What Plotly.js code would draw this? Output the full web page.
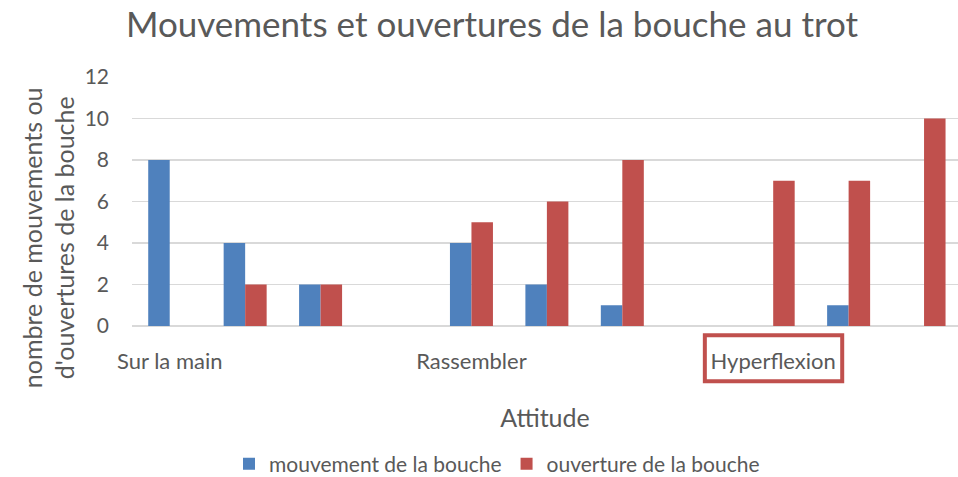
<!DOCTYPE html>
<html>
<head>
<meta charset="utf-8">
<script src="https://cdn.plot.ly/plotly-3.0.1.min.js"></script>
<style>html,body{margin:0;padding:0;background:#fff;}#chart{width:958px;height:477px;}</style>
</head>
<body>
<div id="chart"></div>
<script>
const categories = ["Sur la main", "", "", "", "Rassembler", "", "", "", "Hyperflexion", "", ""];
const mouvement = [8, 4, 2, null, 4, 2, 1, null, null, 1, null];
const ouverture = [null, 2, 2, null, 5, 6, 8, null, 7, 7, 10];
const seriesNames = ["mouvement de la bouche", "ouverture de la bouche"];
const yTicks = [0, 2, 4, 6, 8, 10, 12];

const idx = categories.map((c, i) => i);
const txt = '#595959';
const font = 'Lato, "Open Sans", sans-serif';

const traces = [
  {type: 'bar', name: seriesNames[0], x: idx, y: mouvement, marker: {color: '#4f81bd'}, hoverinfo: 'y'},
  {type: 'bar', name: seriesNames[1], x: idx, y: ouverture, marker: {color: '#c0504d'}, hoverinfo: 'y'}
];

const plotH = 325.7 - 77;
const layout = {
  width: 958, height: 477,
  margin: {l: 132, r: 0, t: 77, b: 151},
  paper_bgcolor: '#fff', plot_bgcolor: '#fff',
  font: {family: font, color: txt},
  barmode: 'group', bargap: 0.43, bargroupgap: 0,
  title: {text: 'Mouvements et ouvertures de la bouche au trot', font: {size: 35, color: txt, family: font},
          xref: 'container', x: 492/958, xanchor: 'center', yref: 'container', y: 1 - 25/477, yanchor: 'middle'},
  xaxis: {range: [-0.5, 10.45], tickvals: idx, ticktext: categories, showgrid: false, zeroline: false,
          showline: false, ticks: '', tickfont: {size: 22, color: txt}, ticklabelstandoff: 20,
          title: {text: 'Attitude', font: {size: 25, color: txt}, standoff: 36}},
  yaxis: {range: [0, 12], tickvals: yTicks, showgrid: true, gridcolor: '#d9d9d9', gridwidth: 1.5,
          zeroline: true, zerolinecolor: '#d9d9d9', zerolinewidth: 1.5, showline: false, ticks: '',
          tickfont: {size: 21, color: txt}, ticklabelstandoff: 22},
  showlegend: true,
  legend: {orientation: 'h', xref: 'container', x: 497/958, xanchor: 'center', yref: 'container', y: 1 - 464/477, yanchor: 'middle',
           font: {size: 21, color: txt}, itemwidth: 30, traceorder: 'normal'},
  annotations: [
    {text: 'nombre de mouvements ou<br>d\'ouvertures de la bouche', textangle: -90, showarrow: false,
     xref: 'paper', yref: 'paper', x: (48 - 132) / 826, y: (325.7 - 238) / plotH, xanchor: 'center', yanchor: 'middle',
     font: {size: 25, color: txt}}
  ],
  shapes: [
    {type: 'rect', xref: 'x', yref: 'paper', x0: 7.094, x1: 8.915, y0: -0.222, y1: -0.037,
     line: {color: '#c0504d', width: 4}}
  ]
};

Plotly.newPlot('chart', traces, layout, {displayModeBar: false, staticPlot: true});
</script>
</body>
</html>
